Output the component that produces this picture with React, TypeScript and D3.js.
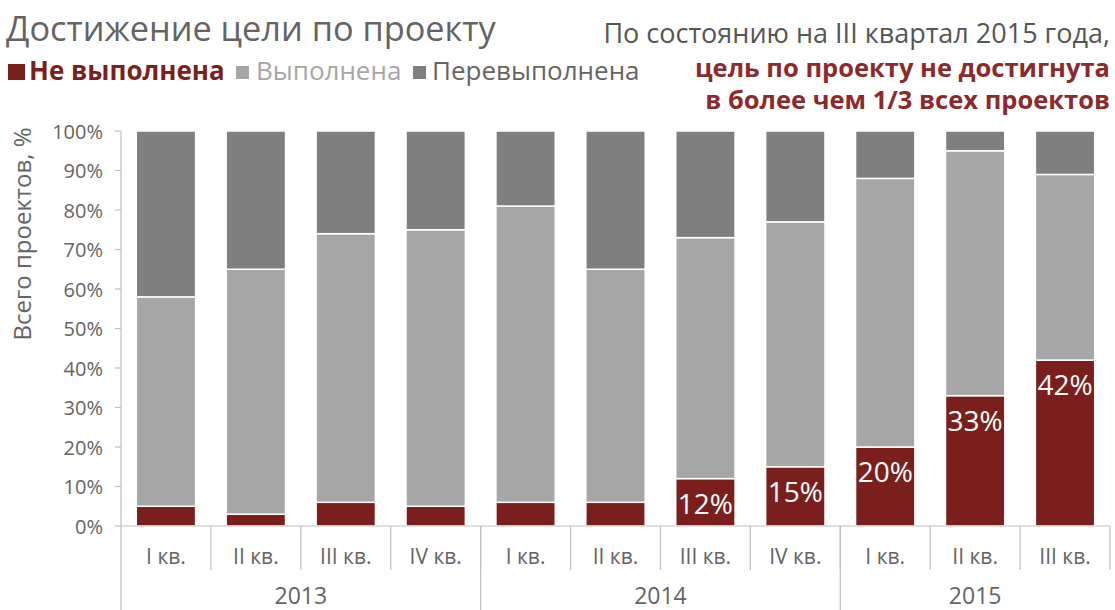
import React from "react";
import * as d3 from "d3";

const quarters = ["I кв.", "II кв.", "III кв.", "IV кв.", "I кв.", "II кв.", "III кв.", "IV кв.", "I кв.", "II кв.", "III кв."];
const years = ["2013", "2013", "2013", "2013", "2014", "2014", "2014", "2014", "2015", "2015", "2015"];
const notMet = [5, 3, 6, 5, 6, 6, 12, 15, 20, 33, 42];
const met = [53, 62, 68, 70, 75, 59, 61, 62, 68, 62, 47];
const exceeded = [42, 35, 26, 25, 19, 35, 27, 23, 12, 5, 11];
const labeled = [false, false, false, false, false, false, true, true, true, true, true];
const yTicks = [0, 10, 20, 30, 40, 50, 60, 70, 80, 90, 100];
const seriesNames = ["Не выполнена", "Выполнена", "Перевыполнена"];
const seriesColors = ["#7b1f1c", "#a6a6a6", "#7f7f7f"];

const FONT = "'Open Sans', sans-serif";

export default function App() {
  const W = 1115, H = 610;
  const x0 = 121, x1 = 1110, yTop = 131, yBot = 526;
  const idx = quarters.map((_, i) => i);
  const x = d3.scaleBand<number>().domain(idx).range([x0, x1]).paddingInner(0.34).paddingOuter(0.17);
  const step = x.step();
  const y = d3.scaleLinear().domain([0, 100]).range([yBot, yTop]);

  const stack = d3.stack<number>().keys(["0", "1", "2"]).value((i, k) => [notMet, met, exceeded][+k][i]);
  const stacked = stack(idx);

  const yearGroups = Array.from(d3.group(idx, (i) => years[i]), ([yr, arr]) => ({ yr, first: arr[0], last: arr[arr.length - 1] }));

  return (
    <svg width={W} height={H} style={{ position: "absolute", left: 0, top: 0, background: "#fff" }} fontFamily={FONT}>
      <text x={6} y={41} fontSize={34.3} fill="#646464">Достижение цели по проекту</text>
      <g fontSize={26}>
        <rect x={8} y={64} width={17} height={16} fill={seriesColors[0]} />
        <text x={29} y={80} fontWeight="bold" fill={seriesColors[0]}>{seriesNames[0]}</text>
        <rect x={236} y={66} width={13} height={13} fill={seriesColors[1]} />
        <text x={256} y={80} fill="#a6a6a6">{seriesNames[1]}</text>
        <rect x={413} y={66} width={13} height={13} fill={seriesColors[2]} />
        <text x={432} y={80} fill="#646464">{seriesNames[2]}</text>
      </g>
      <text x={1110} y={43} fontSize={27} fill="#555" textAnchor="end">По состоянию на III квартал 2015 года,</text>
      <g fontSize={25.5} fontWeight="bold" fill="#8a2a2c" textAnchor="end">
        <text x={1110} y={77}>цель по проекту не достигнута</text>
        <text x={1110} y={109}>в более чем 1/3 всех проектов</text>
      </g>

      <text transform={`translate(31,${(yTop + 337) / 2}) rotate(-90)`} textAnchor="middle" fontSize={24} fill="#646464">Всего проектов, %</text>

      {/* y axis */}
      <line x1={x0} x2={x0} y1={yTop} y2={yBot} stroke="#bfbfbf" strokeWidth={1.2} />
      {yTicks.map((t) => (
        <g key={t}>
          <line x1={x0 - 6} x2={x0} y1={y(t)} y2={y(t)} stroke="#bfbfbf" strokeWidth={1.2} />
          <text x={103} y={y(t) + 7.5} textAnchor="end" fontSize={20} fill="#646464">{t}%</text>
        </g>
      ))}

      {/* bars */}
      {stacked.map((s, si) =>
        s.map((d, i) => (
          <rect key={`${si}-${i}`} x={x(i)} width={x.bandwidth()} y={y(d[1])} height={y(d[0]) - y(d[1])} fill={seriesColors[si]} stroke="#fff" strokeWidth={1.5} />
        ))
      )}
      {idx.filter((i) => labeled[i]).map((i) => (
        <text key={i} x={(x(i) as number) + x.bandwidth() / 2} y={y(notMet[i]) + 35} textAnchor="middle" fontSize={28} fill="#fff">{notMet[i]}%</text>
      ))}

      {/* x axis */}
      <line x1={x0} x2={x1} y1={yBot} y2={yBot} stroke="#bfbfbf" strokeWidth={1.2} />
      {idx.map((i) => (
        <g key={i}>
          <line x1={x0 + step * (i + 1)} x2={x0 + step * (i + 1)} y1={yBot} y2={570} stroke="#bfbfbf" strokeWidth={1.2} />
          <text x={x0 + step * (i + 0.5)} y={564} textAnchor="middle" fontSize={21} fill="#646464">{quarters[i]}</text>
        </g>
      ))}
      {yearGroups.map((g) => (
        <g key={g.yr}>
          <line x1={x0 + step * g.first} x2={x0 + step * g.first} y1={yBot} y2={H} stroke="#bfbfbf" strokeWidth={1.2} />
          <text x={x0 + step * (g.first + g.last + 1) / 2} y={604} textAnchor="middle" fontSize={23} fill="#646464">{g.yr}</text>
        </g>
      ))}
    </svg>
  );
}
